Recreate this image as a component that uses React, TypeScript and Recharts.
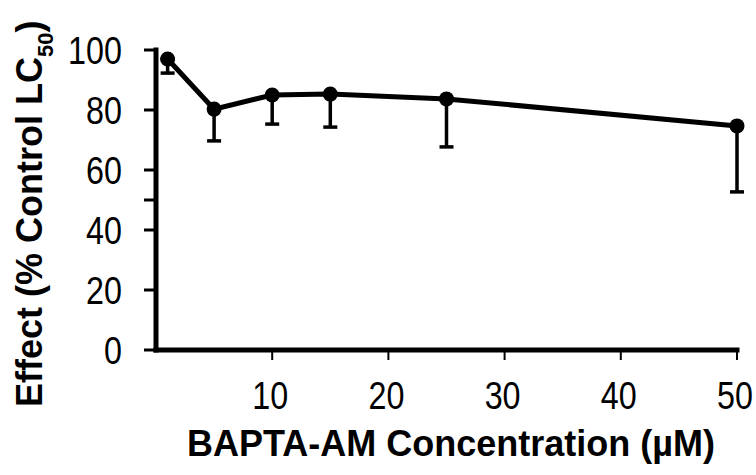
import React from 'react'
import { LineChart, Line, XAxis, YAxis, ErrorBar, Label } from 'recharts'

// BAPTA-AM dose series: mean effect with one-sided (downward) error
const concentrations = [1, 5, 10, 15, 25, 50]
const effect = [97, 80.3, 85, 85.3, 83.7, 74.7]
const sem = [4.7, 10.6, 9.7, 11, 16, 22]

const xTicks = [10, 20, 30, 40, 50]
const yTicks = [0, 20, 40, 50, 60, 80, 100]
const yTickLabels = ['0', '20', '40', '', '60', '80', '100']

const FONT = '"Liberation Sans", Arial, Helvetica, sans-serif'
const TICK_SIZE = 38
const TICK_SQUEEZE = 0.85

const data = concentrations.map((conc, i) => ({
  conc,
  effect: effect[i],
  err: [sem[i], 0],
}))

// tick numbers are drawn a bit narrow and tall
function YTick(props: any) {
  const { x, y, payload } = props
  const label = yTickLabels[yTicks.indexOf(payload.value)] ?? String(payload.value)
  return (
    <text
      transform={`translate(${x},${y + TICK_SIZE * 0.36}) scale(${TICK_SQUEEZE},1)`}
      textAnchor="end"
      fontFamily={FONT}
      fontSize={TICK_SIZE}
      fill="#000"
    >
      {label}
    </text>
  )
}

function XTick(props: any) {
  const { x, y, payload } = props
  return (
    <text
      transform={`translate(${x - 2},${y + TICK_SIZE * 0.72}) scale(${TICK_SQUEEZE},1)`}
      textAnchor="middle"
      fontFamily={FONT}
      fontSize={TICK_SIZE}
      fill="#000"
    >
      {payload.value}
    </text>
  )
}

function YTitle() {
  return (
    <text
      transform="translate(42,407) rotate(-90)"
      fontFamily={FONT}
      fontWeight="bold"
      fontSize={36}
      fill="#000"
    >
      Effect (% Control LC
      <tspan fontSize={22} dy={11}>50</tspan>
      <tspan dy={-11}>)</tspan>
    </text>
  )
}

function XTitle() {
  return (
    <text
      x={451}
      y={456}
      textAnchor="middle"
      fontFamily={FONT}
      fontWeight="bold"
      fontSize={36}
      fill="#000"
    >
      BAPTA-AM Concentration (µM)
    </text>
  )
}

export default function App() {
  return (
    <div style={{ position: 'absolute', left: 0, top: 0, background: '#fff' }}>
      <LineChart
        width={756}
        height={475}
        data={data}
        margin={{ top: 50, right: 19, left: 56, bottom: 55 }}
        style={{ fontFamily: FONT }}
      >
        <XAxis
          dataKey="conc"
          type="number"
          domain={[0, 50]}
          ticks={xTicks}
          height={70}
          tick={<XTick />}
          tickSize={10}
          tickMargin={22}
          tickLine={{ stroke: '#000', strokeWidth: 2 }}
          axisLine={{ stroke: '#000', strokeWidth: 5, strokeLinecap: 'square' }}
        >
          <Label content={<XTitle />} />
        </XAxis>
        <YAxis
          type="number"
          domain={[0, 100]}
          ticks={yTicks}
          interval={0}
          width={100}
          tick={<YTick />}
          tickSize={12}
          tickMargin={22}
          tickLine={{ stroke: '#000', strokeWidth: 3 }}
          axisLine={{ stroke: '#000', strokeWidth: 5, strokeLinecap: 'square' }}
        >
          <Label content={<YTitle />} />
        </YAxis>
        <Line
          type="linear"
          dataKey="effect"
          stroke="#000"
          strokeWidth={5}
          dot={{ r: 7.5, fill: '#000', stroke: '#000', strokeWidth: 0 }}
          activeDot={false}
          isAnimationActive={false}
        >
          <ErrorBar
            dataKey="err"
            direction="y"
            width={7}
            stroke="#000"
            strokeWidth={3.5}
            isAnimationActive={false}
          />
        </Line>
      </LineChart>
    </div>
  )
}
